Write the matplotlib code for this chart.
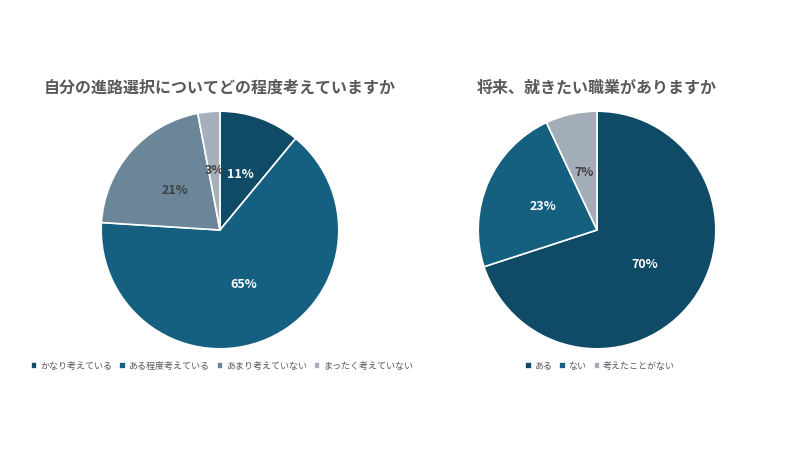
import matplotlib.pyplot as plt

plt.rcParams['font.family'] = 'Noto Sans CJK JP'

# left chart
title1 = '自分の進路選択についてどの程度考えていますか'
labels1 = ['かなり考えている', 'ある程度考えている', 'あまり考えていない', 'まったく考えていない']
values1 = [11, 65, 21, 3]
colors1 = ['#0f4a66', '#155f80', '#6b8599', '#a6b0ba']
txt1 = ['white', 'white', '#404040', '#404040']

# right chart
title2 = '将来、就きたい職業がありますか'
labels2 = ['ある', 'ない', '考えたことがない']
values2 = [70, 23, 7]
colors2 = ['#0f4a66', '#15607f', '#a3adb7']
txt2 = ['white', 'white', '#404040']

fig = plt.figure(figsize=(8, 4.5), dpi=100)


def draw(rect, vals, cols, tcols, labels, title, title_y, leg_x):
    ax = fig.add_axes(rect)
    wedges, _, autotexts = ax.pie(vals, colors=cols, startangle=90, counterclock=False,
                                  autopct='%d%%', pctdistance=0.5, radius=1,
                                  wedgeprops=dict(edgecolor='white', linewidth=1.2))
    for t, c in zip(autotexts, tcols):
        t.set_color(c)
        t.set_fontsize(9)
        t.set_fontweight('bold')
    ax.set_xlim(-1.01, 1.01)
    ax.set_ylim(-1.01, 1.01)
    ax.set_aspect('equal')
    fig.text(rect[0] + rect[2] / 2, title_y, title, ha='center', va='center',
             fontsize=11.5, fontweight='bold', color='#595959')
    fig.legend(wedges, labels, loc='center', bbox_to_anchor=(leg_x, 1 - 366 / 450),
               ncol=len(labels), frameon=False, fontsize=6.5, handlelength=0.7,
               handleheight=0.7, handletextpad=0.3, columnspacing=0.8,
               labelcolor='#595959')


draw([100 / 800, 100 / 450, 240 / 800, 240 / 450], values1, colors1, txt1, labels1,
     title1, 1 - 88 / 450, 222 / 800)
draw([477 / 800, 100 / 450, 240 / 800, 240 / 450], values2, colors2, txt2, labels2,
     title2, 1 - 88 / 450, 600 / 800)

fig.savefig('out.png', dpi=100)
